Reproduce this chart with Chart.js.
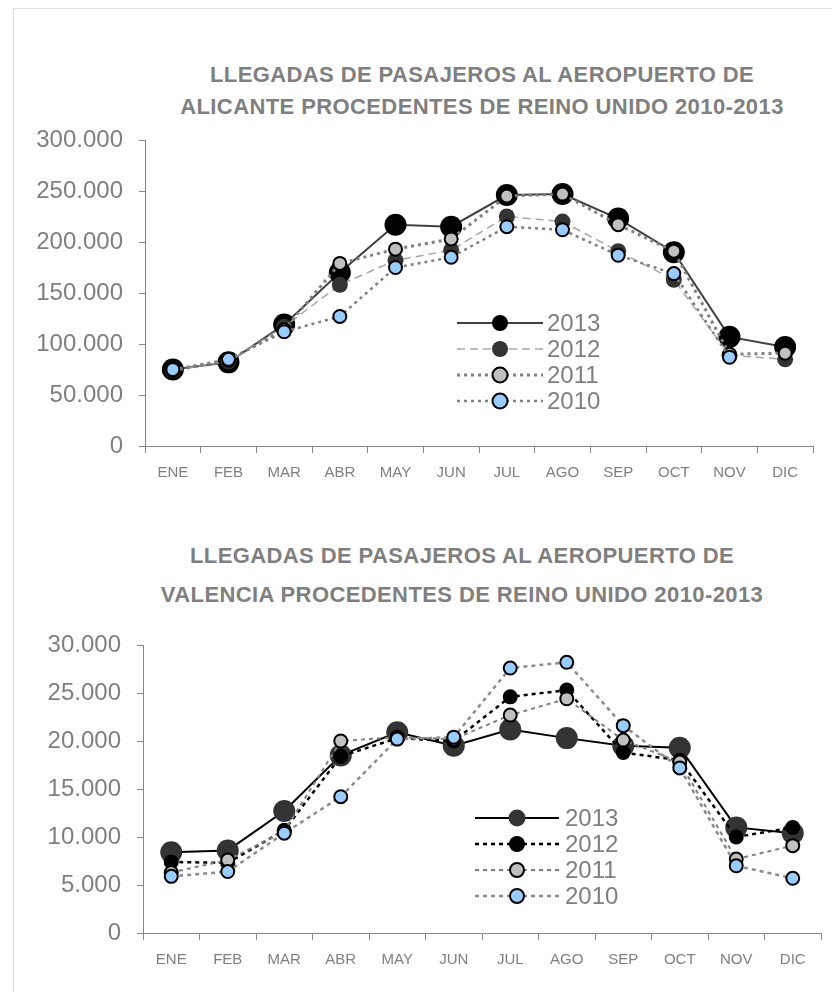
<!DOCTYPE html>
<html>
<head>
<meta charset="utf-8">
<script src="https://cdn.jsdelivr.net/npm/chart.js@4.4.1/dist/chart.umd.min.js"></script>
<style>
body{margin:0;background:#fff;width:832px;height:992px;position:relative;overflow:hidden;font-family:"Liberation Sans",Arial,sans-serif}
canvas{position:absolute;left:0}
#marco{position:absolute;left:13px;top:8px;width:840px;height:1000px;border-left:1px solid #dedede;border-top:1px solid #dedede}
.tit{position:absolute;left:0;width:832px;text-align:center;font-weight:bold;font-size:22px;color:#7f7f7f;letter-spacing:0.4px;white-space:nowrap;line-height:26px}
</style>
</head>
<body>
<div id="marco"></div>
<div class="tit" style="top:62px;left:66px">LLEGADAS DE PASAJEROS AL AEROPUERTO DE</div>
<div class="tit" style="top:94px;left:66px">ALICANTE PROCEDENTES DE REINO UNIDO 2010-2013</div>
<div class="tit" style="top:543px;left:46px">LLEGADAS DE PASAJEROS AL AEROPUERTO DE</div>
<div class="tit" style="top:582px;left:46px">VALENCIA PROCEDENTES DE REINO UNIDO 2010-2013</div>
<canvas id="alicante" width="832" height="500" style="top:0"></canvas>
<canvas id="valencia" width="832" height="492" style="top:500px"></canvas>
<script>
const meses=['ENE','FEB','MAR','ABR','MAY','JUN','JUL','AGO','SEP','OCT','NOV','DIC']

const ali2013=[75000,82000,119000,170000,217000,215000,246000,247000,223000,190000,107000,97000]
const ali2012=[74000,83000,117000,158000,182000,192000,225000,220000,191000,163000,89000,85000]
const ali2011=[74000,84000,114000,179000,193000,203000,245000,247000,217000,191000,90000,91000]
const ali2010=[75000,85000,112000,127000,175000,185000,215000,212000,187000,169000,87000,null]
const ticksAli=[0,50000,100000,150000,200000,250000,300000]

const val2013=[8400,8600,12700,18500,20900,19500,21200,20300,19500,19300,11000,10400]
const val2012=[7400,7300,10700,18400,20300,20000,24600,25300,18800,18000,10000,11000]
const val2011=[6300,7600,10600,20000,20400,20200,22700,24400,20100,17800,7700,9100]
const val2010=[5900,6400,10400,14200,20200,20400,27600,28200,21600,17200,7000,5700]
const ticksVal=[0,5000,10000,15000,20000,25000,30000]

const gris='#7f7f7f'
const fmt=v=>String(v).replace(/\B(?=(\d{3})+(?!\d))/g,'.')

// leyenda dibujada dentro del area, linea con el marcador en medio
const leyenda={
    id:'leyenda',
    afterDraw(chart,args,o){
        const ctx=chart.ctx
        const ds=chart.data.datasets.slice().reverse()
        ds.forEach((d,i)=>{
            const y=o.y+i*o.paso
            ctx.save()
            ctx.strokeStyle=d.borderColor
            ctx.lineWidth=d.borderWidth
            ctx.setLineDash(d.borderDash||[])
            ctx.beginPath()
            ctx.moveTo(o.x,y)
            ctx.lineTo(o.x+o.largo,y)
            ctx.stroke()
            ctx.setLineDash([])
            ctx.beginPath()
            ctx.arc(o.x+o.largo/2,y,o.r[i],0,Math.PI*2)
            ctx.fillStyle=d.pointBackgroundColor
            ctx.fill()
            if(d.pointBorderWidth){
                ctx.lineWidth=d.pointBorderWidth
                ctx.strokeStyle=d.pointBorderColor
                ctx.stroke()
            }
            ctx.fillStyle=gris
            ctx.font='24px "Liberation Sans"'
            ctx.textBaseline='middle'
            ctx.fillText(d.label,o.x+o.largo+o.hueco,y+1)
            ctx.restore()
        })
    }
}

const serie=(label,data,linea,ancho,dash,relleno,radio,borde)=>({
    label,data,
    borderColor:linea,borderWidth:ancho,borderDash:dash,
    pointBackgroundColor:relleno,pointBorderColor:'#000',
    pointBorderWidth:borde,pointRadius:radio,pointHoverRadius:radio,
    tension:0,fill:false
})

const escalas=(ticks,ancho,alto)=>({
    x:{
        offset:true,
        grid:{drawOnChartArea:false,offset:true,tickLength:7,color:'#868686'},
        border:{color:'#868686'},
        ticks:{color:gris,font:{size:15,family:'Liberation Sans'},padding:11,maxRotation:0,autoSkip:false},
        afterFit:s=>{s.height=alto}
    },
    y:{
        min:ticks[0],max:ticks[ticks.length-1],
        afterBuildTicks:s=>{s.ticks=ticks.map(v=>({value:v}))},
        grid:{drawOnChartArea:false,tickLength:6,color:'#868686'},
        border:{color:'#868686'},
        ticks:{color:gris,font:{size:24,family:'Liberation Sans'},padding:16,callback:v=>fmt(v)},
        afterFit:s=>{s.width=ancho}
    }
})

new Chart(document.getElementById('alicante'),{
    type:'line',
    data:{
        labels:meses,
        datasets:[
            serie('2010',ali2010,'#808080',2.5,[3,4],'#99ccff',6.5,2),
            serie('2011',ali2011,'#808080',3,[3,4],'#c0c0c0',6.5,2),
            serie('2012',ali2012,'#a6a6a6',1.5,[8,5],'#333333',8,0),
            serie('2013',ali2013,'#404040',2,[],'#000000',11,0),
        ]
    },
    options:{
        responsive:false,animation:false,events:[],
        layout:{padding:{top:140,right:19,bottom:0,left:0}},
        scales:escalas(ticksAli,145,54),
        plugins:{
            legend:{display:false},tooltip:{enabled:false},
            leyenda:{x:457,y:323,paso:26,largo:86,hueco:4,r:[8,8,7.5,7.5]}
        }
    },
    plugins:[leyenda]
})

new Chart(document.getElementById('valencia'),{
    type:'line',
    data:{
        labels:meses,
        datasets:[
            serie('2010',val2010,'#8c8c8c',2.5,[4,4],'#99ccff',6.5,2),
            serie('2011',val2011,'#808080',2,[4,4],'#c0c0c0',6.5,2),
            serie('2012',val2012,'#000000',2.5,[4,4],'#000000',7.5,0),
            serie('2013',val2013,'#000000',2,[],'#333333',11,0),
        ]
    },
    options:{
        responsive:false,animation:false,events:[],
        layout:{padding:{top:145,right:4,bottom:0,left:0}},
        scales:escalas(ticksVal,143,59),
        plugins:{
            legend:{display:false},tooltip:{enabled:false},
            leyenda:{x:475,y:318,paso:26,largo:84,hueco:6,r:[8.5,8,7,7]}
        }
    },
    plugins:[leyenda]
})
</script>
</body>
</html>
